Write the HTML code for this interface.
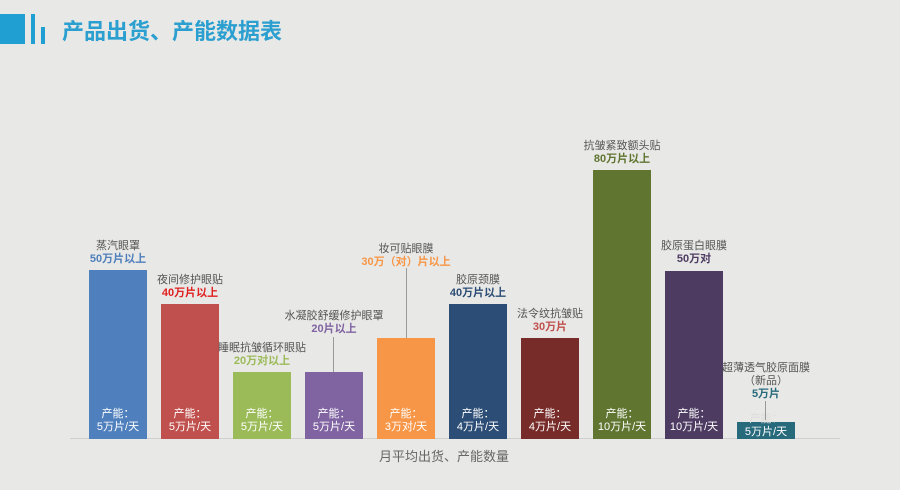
<!DOCTYPE html>
<html><head><meta charset="utf-8"><style>
body{margin:0;width:900px;height:490px;background:#e8e8e6;position:relative;overflow:hidden;font-family:"Liberation Sans","Noto Sans CJK SC",sans-serif}
.a{position:absolute}
.bar{position:absolute;width:58px;bottom:51px}
.cap{position:absolute;width:58px;color:#fff;font-size:11px;text-align:center;line-height:13px}
.lab{position:absolute;width:160px;text-align:center;font-size:11px;line-height:13px;color:#555}
.lab b{display:block}
.ln{position:absolute;width:1px;background:#999}
</style></head><body>
<div class="a" style="left:0;top:14px;width:25px;height:30px;background:#1f9fd2"></div>
<div class="a" style="left:31px;top:14px;width:4px;height:30px;background:#1f9fd2"></div>
<div class="a" style="left:41px;top:27px;width:4px;height:17px;background:#1f9fd2"></div>
<div class="a" style="left:62px;top:17px;font-size:22px;font-weight:bold;color:#2a9fd0;line-height:30px">产品出货、产能数据表</div>
<div class="a" style="left:70px;top:438px;width:770px;height:1px;background:#cfcfcf"></div>
<div class="a" style="left:344px;top:446px;width:200px;text-align:center;font-size:13px;color:#666">月平均出货、产能数量</div>

<div class="bar" style="left:89px;top:270px;background:#4f7fbc"></div>
<div class="bar" style="left:161px;top:304px;background:#c0504d"></div>
<div class="bar" style="left:233px;top:372px;background:#9bbb59"></div>
<div class="bar" style="left:305px;top:372px;background:#8064a2"></div>
<div class="bar" style="left:377px;top:338px;background:#f79646"></div>
<div class="bar" style="left:449px;top:304px;background:#2c4d75"></div>
<div class="bar" style="left:521px;top:338px;background:#772c2a"></div>
<div class="bar" style="left:593px;top:170px;background:#5f7530"></div>
<div class="bar" style="left:665px;top:271px;background:#4d3b62"></div>
<div class="bar" style="left:737px;top:422px;background:#276a7c"></div>

<div class="cap" style="left:89px;top:408px">产能：<br>5万片/天</div>
<div class="cap" style="left:161px;top:408px">产能：<br>5万片/天</div>
<div class="cap" style="left:233px;top:408px">产能：<br>5万片/天</div>
<div class="cap" style="left:305px;top:408px">产能：<br>5万片/天</div>
<div class="cap" style="left:377px;top:408px">产能：<br>3万对/天</div>
<div class="cap" style="left:449px;top:408px">产能：<br>4万片/天</div>
<div class="cap" style="left:521px;top:408px">产能：<br>4万片/天</div>
<div class="cap" style="left:593px;top:408px">产能：<br>10万片/天</div>
<div class="cap" style="left:665px;top:408px">产能：<br>10万片/天</div>
<div class="cap" style="left:737px;top:413px;color:#ddd">产能：</div>
<div class="cap" style="left:737px;top:426px;font-size:11px">5万片/天</div>

<div class="ln" style="left:333px;top:337px;height:35px"></div>
<div class="ln" style="left:406px;top:268px;height:70px"></div>
<div class="ln" style="left:765px;top:401px;height:19px"></div>

<div class="lab" style="left:38px;top:240px">蒸汽眼罩<b style="color:#4f7fbc">50万片以上</b></div>
<div class="lab" style="left:110px;top:274px">夜间修护眼贴<b style="color:#e02020">40万片以上</b></div>
<div class="lab" style="left:182px;top:342px">睡眠抗皱循环眼贴<b style="color:#9bbb59">20万对以上</b></div>
<div class="lab" style="left:254px;top:310px">水凝胶舒缓修护眼罩<b style="color:#8064a2">20片以上</b></div>
<div class="lab" style="left:326px;top:243px">妆可贴眼膜<b style="color:#f79646">30万（对）片以上</b></div>
<div class="lab" style="left:398px;top:274px">胶原颈膜<b style="color:#2c4d75">40万片以上</b></div>
<div class="lab" style="left:470px;top:308px">法令纹抗皱贴<b style="color:#c0504d">30万片</b></div>
<div class="lab" style="left:542px;top:140px">抗皱紧致额头贴<b style="color:#5f7530">80万片以上</b></div>
<div class="lab" style="left:614px;top:240px">胶原蛋白眼膜<b style="color:#4d3b62">50万对</b></div>
<div class="lab" style="left:686px;top:362px">超薄透气胶原面膜<br>（新品）<b style="color:#276a7c">5万片</b></div>
</body></html>
